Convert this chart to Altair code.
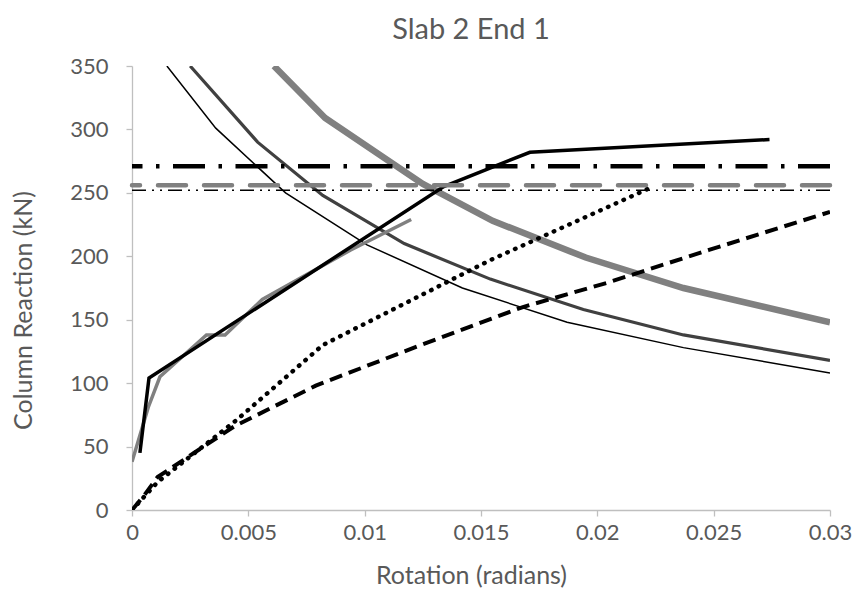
import altair as alt
import pandas as pd

# ---- data ----
thick_gray_x = [0.0061, 0.0083, 0.0125, 0.0155, 0.0195, 0.0237, 0.03]
thick_gray_y = [350, 309, 257, 228, 199, 175, 148]

dark_gray_x = [0.0025, 0.0054, 0.0082, 0.0117, 0.0154, 0.0194, 0.0237, 0.03]
dark_gray_y = [350, 290, 248, 210, 182, 158, 138, 118]

thin_black_x = [0.0015, 0.0036, 0.0066, 0.0101, 0.0142, 0.0187, 0.0237, 0.03]
thin_black_y = [350, 301, 250, 209, 175, 148, 128, 108]

gray_up_x = [0, 0.0007, 0.0012, 0.0032, 0.004, 0.0056, 0.0094, 0.012]
gray_up_y = [38, 81, 105, 138, 138, 166, 205, 229]

black_up_x = [0.00034, 0.00073, 0.0134, 0.0171, 0.0274]
black_up_y = [45, 104, 255, 282, 292]

dotted_x = [0, 0.0011, 0.0045, 0.0082, 0.0154, 0.0224]
dotted_y = [0, 22, 71, 130, 197, 255]

dashed_x = [0, 0.0005, 0.0011, 0.0044, 0.0079, 0.0124, 0.0168, 0.0204, 0.0248, 0.03]
dashed_y = [0, 11, 26, 66, 98, 130, 160, 179, 205, 235]

limit_dashdot = [271]
limit_gray_dash = [256]
limit_dashdotdot = [252]

x_ticks = [0, 0.005, 0.01, 0.015, 0.02, 0.025, 0.03]
y_ticks = [0, 50, 100, 150, 200, 250, 300, 350]

FONT = "Lato"
TXT = "#595959"

xs = alt.Scale(domain=[0, 0.03], nice=False, zero=False)
ys = alt.Scale(domain=[0, 350], nice=False)

x_axis = alt.Axis(values=x_ticks, format="~g", title="Rotation (radians)",
                  labelFlush=False, titleX=339, titleY=65,
                  titleBaseline="middle")
y_axis = alt.Axis(values=y_ticks, title="Column Reaction (kN)",
                  titleX=-109, titleY=244, titleBaseline="middle")


def line(xv, yv, **mark):
    df = pd.DataFrame({"x": xv, "y": yv, "i": list(range(len(xv)))})
    return alt.Chart(df).mark_line(clip=True, **mark).encode(
        x=alt.X("x:Q", scale=xs, axis=x_axis),
        y=alt.Y("y:Q", scale=ys, axis=y_axis),
        order="i:Q",
    )


def hrule(v, **mark):
    df = pd.DataFrame({"y": v})
    return alt.Chart(df).mark_rule(**mark).encode(
        y=alt.Y("y:Q", scale=ys, axis=y_axis),
    )


layers = [
    line(thick_gray_x, thick_gray_y, color="#808080", strokeWidth=6.5),
    line(dark_gray_x, dark_gray_y, color="#404040", strokeWidth=3.2),
    line(thin_black_x, thin_black_y, color="#000000", strokeWidth=1.5),
    line(gray_up_x, gray_up_y, color="#808080", strokeWidth=3.5),
    line(black_up_x, black_up_y, color="#000000", strokeWidth=3.5),
    line(dashed_x, dashed_y, color="#000000", strokeWidth=4, strokeDash=[13, 7]),
    hrule(limit_dashdot, color="#000000", strokeWidth=4.5,
          strokeDash=[32, 13.5, 3.5, 13.5]),
    hrule(limit_gray_dash, color="#808080", strokeWidth=4.5,
          strokeDash=[28, 18], strokeCap="round"),
    hrule(limit_dashdotdot, color="#000000", strokeWidth=1.5,
          strokeDash=[14, 6, 2, 6, 2, 6]),
    line(dotted_x, dotted_y, color="#000000", strokeWidth=4.5,
         strokeDash=[0.5, 8], strokeCap="round"),
]

chart = alt.layer(*layers).properties(
    width=698,
    height=444,
    padding={"left": 132, "top": 66, "right": 23, "bottom": 82},
    autosize=alt.AutoSizeParams(type="none"),
    title=alt.TitleParams(
        "Slab 2 End 1", font=FONT, fontSize=29, fontWeight="normal",
        color=TXT, anchor="middle", frame="group", dx=-10, offset=10,
    ),
).configure_view(stroke=None).configure_axis(
    grid=False,
    domainColor="#bfbfbf",
    domainWidth=1.3,
    tickColor="#bfbfbf",
    tickWidth=1.3,
    tickSize=6,
    labelFont=FONT,
    labelFontSize=22,
    labelColor=TXT,
    titleFont=FONT,
    titleFontSize=25,
    titleFontWeight="normal",
    titleColor=TXT,
).configure_axisX(
    labelPadding=6,
).configure_axisY(
    labelPadding=18,
)

chart.save("out.html", embed_options={"renderer": "svg", "actions": False})
